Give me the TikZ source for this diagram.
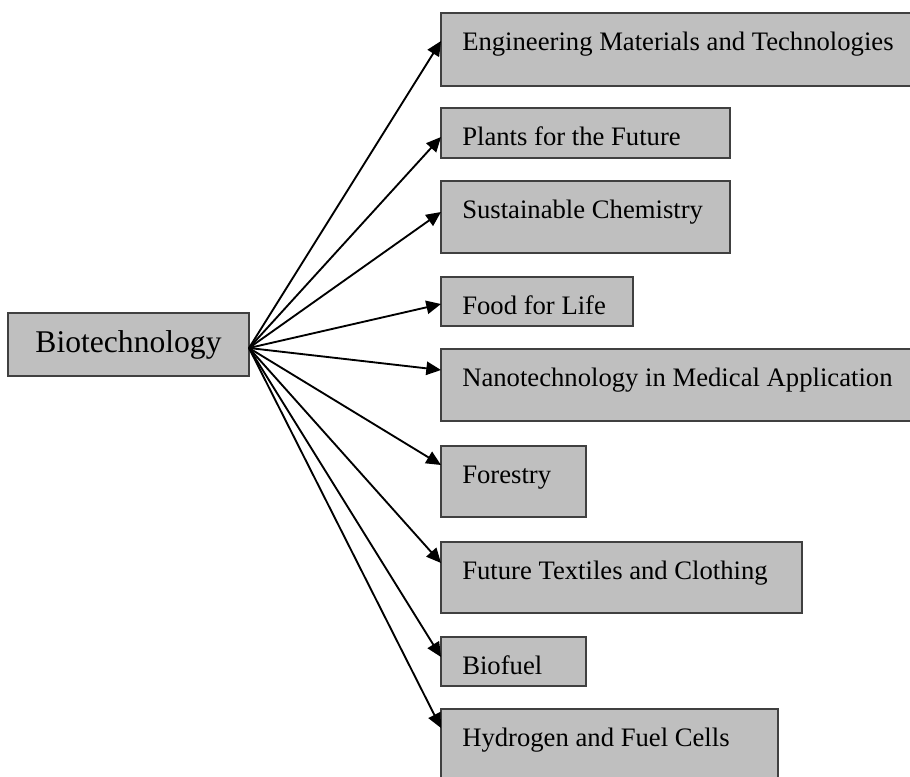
\documentclass[tikz,border=0pt]{standalone}
\usepackage{fontspec}
\setmainfont{Liberation Serif}
\usetikzlibrary{arrows.meta,calc}
\begin{document}
\begin{tikzpicture}[x=0.75pt,y=-0.75pt,
  boxstyle/.style={draw=black!75, line width=1.5pt, fill=black!25, anchor=north west, inner sep=0pt, outer sep=0pt},
  itemtext/.style={anchor=base west, inner sep=0pt, font=\fontsize{20}{24}\selectfont},
  arr/.style={line width=1.4pt, -{Triangle[length=11pt,width=10pt]}}]
\useasboundingbox (0,0) rectangle (910,776);

% source box
\node[boxstyle, anchor=center, minimum width=241*0.75pt, minimum height=63*0.75pt,
      font=\fontsize{23.7}{28}\selectfont] (bio) at (128.5,344.5) {Biotechnology};
\coordinate (src) at ($(bio.east)+(0,3.5)$);

% target boxes
\node[boxstyle, minimum width=560*0.75pt, minimum height=73*0.75pt] (E)  at (441,13)  {};
\node[boxstyle, minimum width=289*0.75pt, minimum height=50*0.75pt] (P)  at (441,108) {};
\node[boxstyle, minimum width=289*0.75pt, minimum height=72*0.75pt] (S)  at (441,181) {};
\node[boxstyle, minimum width=192*0.75pt, minimum height=49*0.75pt] (F)  at (441,277) {};
\node[boxstyle, minimum width=560*0.75pt, minimum height=72*0.75pt] (N)  at (441,349) {};
\node[boxstyle, minimum width=145*0.75pt, minimum height=71*0.75pt] (Fo) at (441,446) {};
\node[boxstyle, minimum width=361*0.75pt, minimum height=71*0.75pt] (T)  at (441,542) {};
\node[boxstyle, minimum width=145*0.75pt, minimum height=49*0.75pt] (B)  at (441,637) {};
\node[boxstyle, minimum width=337*0.75pt, minimum height=120*0.75pt] (H) at (441,709) {};

% texts
\node[itemtext] (tE)  at ($(E.north west)+(21,37)$)  {Engineering Materials and Technologies};
\node[itemtext] (tP)  at ($(P.north west)+(21,37)$)  {Plants for the Future};
\node[itemtext] (tS)  at ($(S.north west)+(21,37)$)  {Sustainable Chemistry};
\node[itemtext] (tF)  at ($(F.north west)+(21,37)$)  {Food for Life};
\node[itemtext] (tN)  at ($(N.north west)+(21,37)$)  {Nanotechnology in Medical Application};
\node[itemtext] (tFo) at ($(Fo.north west)+(21,37)$) {Forestry};
\node[itemtext] (tT)  at ($(T.north west)+(21,37)$)  {Future Textiles and Clothing};
\node[itemtext] (tB)  at ($(B.north west)+(21,37)$)  {Biofuel};
\node[itemtext] (tH)  at ($(H.north west)+(21,37)$)  {Hydrogen and Fuel Cells};

% connectors
\draw[arr] (src) -- ($(E.north west)+(0,28)$);
\draw[arr] (src) -- ($(P.north west)+(0,29)$);
\draw[arr] (src) -- ($(S.north west)+(0,31)$);
\draw[arr] (src) -- ($(F.north west)+(0,27)$);
\draw[arr] (src) -- ($(N.north west)+(0,21)$);
\draw[arr] (src) -- ($(Fo.north west)+(0,19)$);
\draw[arr] (src) -- ($(T.north west)+(0,21)$);
\draw[arr] (src) -- ($(B.north west)+(0,20)$);
\draw[arr] (src) -- ($(H.north west)+(0,19)$);
\end{tikzpicture}
\end{document}
